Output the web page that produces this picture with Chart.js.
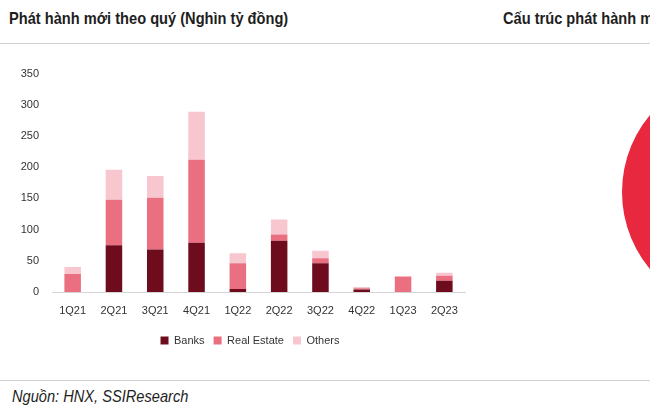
<!DOCTYPE html>
<html>
<head>
<meta charset="utf-8">
<script src="https://cdn.jsdelivr.net/npm/chart.js@4/dist/chart.umd.min.js"></script>
<style>
    html, body { margin: 0; padding: 0; background: #fff; width: 650px; height: 418px; overflow: hidden; position: relative; }
    .title { position: absolute; top: 9px; font-family: 'Liberation Sans', Arial, sans-serif; font-weight: bold; font-size: 17px; color: #1e1e1e; white-space: nowrap; transform: scaleX(0.86); transform-origin: left top; }
    .rule { position: absolute; left: 0; width: 650px; height: 1px; background: #cfcfcf; }
    .source { position: absolute; left: 12px; top: 387px; font-family: 'Liberation Sans', Arial, sans-serif; font-style: italic; font-size: 17px; color: #1e1e1e; white-space: nowrap; transform: scaleX(0.86); transform-origin: left top; }
    #bars { position: absolute; left: 0; top: 54px; }
    #pie { position: absolute; left: 622px; top: 72px; }
</style>
</head>
<body>
<div class="title" style="left: 9px;">Phát hành mới theo quý (Nghìn tỷ đồng)</div>
<div class="title" style="left: 503px;">Cấu trúc phát hành mới</div>
<div class="rule" style="top: 43px;"></div>
<div class="rule" style="top: 380px;"></div>
<div class="source">Nguồn: HNX, SSIResearch</div>
<canvas id="bars" width="500" height="306"></canvas>
<canvas id="pie" width="240" height="240"></canvas>
<script>
const quarters = ['1Q21', '2Q21', '3Q21', '4Q21', '1Q22', '2Q22', '3Q22', '4Q22', '1Q23', '2Q23'];
const banks = [0, 75, 68, 79, 5, 82, 46, 4, 0, 18];
const realEstate = [29, 73, 83, 133, 41, 10, 8, 2, 25, 8];
const others = [11, 48, 35, 77, 16, 24, 12, 2, 0, 5];
const pieShare = [100];

const FONT = "'Liberation Sans', Arial, sans-serif";
Chart.defaults.font = { ...Chart.defaults.font, family: FONT, size: 11 };
Chart.defaults.color = '#333';

new Chart(document.getElementById('bars'), {
    type: 'bar',
    data: {
        labels: quarters,
        datasets: [
            { label: 'Banks', data: banks, backgroundColor: '#6e0c1e' },
            { label: 'Real Estate', data: realEstate, backgroundColor: '#ea6f80' },
            { label: 'Others', data: others, backgroundColor: '#f7c6ce' }
        ]
    },
    options: {
        responsive: false,
        animation: false,
        categoryPercentage: 1,
        barPercentage: 0.4,
        layout: { padding: { top: 1, right: 0, bottom: 4, left: 0 } },
        plugins: {
            tooltip: { enabled: false },
            legend: {
                position: 'bottom',
                labels: { boxWidth: 8, boxHeight: 8, padding: 9, font: { size: 11 } }
            }
        },
        scales: {
            x: {
                stacked: true,
                grid: { display: false, drawTicks: false },
                border: { display: true, color: '#d6d6d6' },
                ticks: { padding: 12 },
                afterFit: (axis) => { axis.height = 34; }
            },
            y: {
                stacked: true,
                min: 0,
                max: 350,
                grid: { display: false, drawTicks: false },
                border: { display: false },
                ticks: { stepSize: 50, padding: 13 },
                afterFit: (axis) => { axis.width = 52; }
            },
            // empty right margin so the legend stays centred on the canvas
            spacer: {
                type: 'linear',
                position: 'right',
                grid: { display: false, drawTicks: false },
                border: { display: false },
                ticks: { display: false },
                afterFit: (axis) => { axis.width = 35; }
            }
        }
    }
});

new Chart(document.getElementById('pie'), {
    type: 'pie',
    data: {
        labels: ['Share'],
        datasets: [{ data: pieShare, backgroundColor: '#e8283f', borderWidth: 0 }]
    },
    options: {
        responsive: false,
        animation: false,
        plugins: { legend: { display: false }, tooltip: { enabled: false } }
    }
});
</script>
</body>
</html>
